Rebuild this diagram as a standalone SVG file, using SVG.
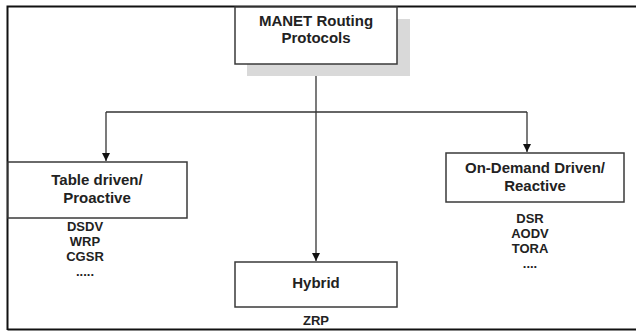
<svg xmlns="http://www.w3.org/2000/svg" width="636" height="331" viewBox="0 0 636 331">
<style>
.box{fill:#fff;stroke:#3a3a3a;stroke-width:1.5}
.t{font-family:"Liberation Sans",Arial,sans-serif;font-weight:bold;font-size:15px;fill:#222;text-anchor:middle}
.s{font-family:"Liberation Sans",Arial,sans-serif;font-weight:bold;font-size:13px;fill:#222;text-anchor:middle}
.c{fill:none;stroke:#333;stroke-width:1.3}
</style>
<defs>
<marker id="ah" viewBox="0 0 10 10" refX="10" refY="5" markerWidth="8" markerHeight="8" markerUnits="userSpaceOnUse" orient="auto">
<path d="M0,0 L10,5 L0,10 z" fill="#111"/>
</marker>
</defs>
<rect width="636" height="331" fill="#fff"/>
<g id="frame">
<path d="M7.5,330 V6.5 H636" fill="none" stroke="#111" stroke-width="2"/>
<path d="M7.5,329.5 H636" fill="none" stroke="#111" stroke-width="2"/>
</g>
<g id="connectors">
<path class="c" d="M316,64 V261" marker-end="url(#ah)"/>
<path class="c" d="M106,112 H527"/>
<path class="c" d="M106,112 V161" marker-end="url(#ah)"/>
<path class="c" d="M527,112 V152" marker-end="url(#ah)"/>
</g>
<g id="manet">
<rect x="247" y="19" width="163" height="57" fill="#d9d9d9"/>
<rect class="box" x="235" y="7" width="162" height="57"/>
<text class="t" x="316" y="26">MANET Routing</text>
<text class="t" x="316" y="43">Protocols</text>
</g>
<g id="table">
<rect class="box" x="8" y="162" width="179" height="56"/>
<text class="t" x="97" y="185">Table driven/</text>
<text class="t" x="97" y="203">Proactive</text>
<text class="s" x="85" y="231">DSDV</text>
<text class="s" x="85" y="246">WRP</text>
<text class="s" x="85" y="261">CGSR</text>
<text class="s" x="85" y="276">.....</text>
</g>
<g id="ondemand">
<rect class="box" x="446" y="153" width="178" height="49"/>
<text class="t" x="535" y="173">On-Demand Driven/</text>
<text class="t" x="535" y="191">Reactive</text>
<text class="s" x="530" y="223">DSR</text>
<text class="s" x="530" y="238">AODV</text>
<text class="s" x="530" y="253">TORA</text>
<text class="s" x="530" y="268">....</text>
</g>
<g id="hybrid">
<rect class="box" x="235" y="262" width="162" height="45"/>
<text class="t" x="316" y="288">Hybrid</text>
<text class="s" x="316" y="325">ZRP</text>
</g>
</svg>
